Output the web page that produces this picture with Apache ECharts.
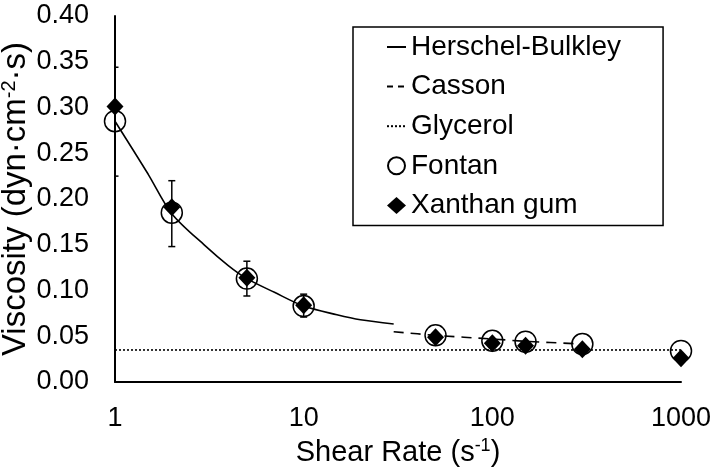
<!DOCTYPE html>
<html>
<head>
<meta charset="utf-8">
<script src="https://cdn.jsdelivr.net/npm/echarts@6/dist/echarts.min.js"></script>
<style>
html,body{margin:0;padding:0;background:#fff;}
#chart{width:720px;height:473px;}
</style>
</head>
<body>
<div id="chart"></div>
<script>
// Measured shear rates (s^-1)
const shearRates = [1, 2, 5, 10, 50, 100, 150, 300, 1000];
// Viscosity data (dyn·cm^-2·s)
const fontanVisc = [0.285, 0.185, 0.113, 0.083, 0.051, 0.045, 0.044, 0.0415, 0.034];
const xanthanVisc = [0.301, 0.191, 0.114, 0.084, 0.0488, 0.0423, 0.0397, 0.0357, 0.0259];
// Fontan error bars (first four shear rates)
const errRates = [1, 2, 5, 10];
const fontanErrLow = [0.225, 0.148, 0.094, 0.071];
const fontanErrHigh = [0.344, 0.220, 0.132, 0.096];
// Herschel-Bulkley fit curve
const hbRates = [1, 1.5, 2, 3, 4, 5, 7, 10, 15, 20, 30];
const hbVisc = [0.285, 0.227, 0.184, 0.149, 0.127, 0.113, 0.098, 0.083, 0.0735, 0.068, 0.0634];
// Casson fit curve
const cassonRates = [30, 50, 100, 150, 300];
const cassonVisc = [0.055, 0.051, 0.047, 0.0445, 0.0415];
// Glycerol reference
const glyRates = [1, 1000];
const glyVisc = [0.035, 0.035];
// Axis ticks
const xTicks = [1, 10, 100, 1000];
const yMin = 0, yMax = 0.40, yStep = 0.05;

const FONT = '"Liberation Sans", Arial, sans-serif';
const zip = (a, b) => a.map((v, i) => [v, b[i]]);
const NOFILL = 'rgba(0,0,0,0)';

const chart = echarts.init(document.getElementById('chart'));
chart.setOption({
  animation: false,
  backgroundColor: '#fff',
  textStyle: {fontFamily: FONT, color: '#000'},
  grid: {left: 115, right: 39, top: 16, bottom: 91, containLabel: false, outerBoundsMode: 'none'},
  xAxis: {
    type: 'log',
    logBase: 10,
    min: xTicks[0],
    max: xTicks[xTicks.length - 1],
    axisLine: {lineStyle: {color: '#000', width: 2}},
    axisTick: {show: false},
    splitLine: {show: false},
    axisLabel: {fontSize: 27, color: '#000', fontFamily: FONT, margin: 23,
      formatter: v => String(Math.round(v))},
    name: 'Shear Rate (s{sup|-1})',
    nameLocation: 'middle',
    nameGap: 55,
    nameMoveOverlap: false,
    nameTextStyle: {fontSize: 29, color: '#000', fontFamily: FONT, lineHeight: 32,
      rich: {sup: {fontSize: 18, lineHeight: 32, verticalAlign: 'top', fontFamily: FONT, color: '#000'}}}
  },
  yAxis: {
    type: 'value',
    min: yMin, max: yMax, interval: yStep,
    axisLine: {show: true, lineStyle: {color: '#000', width: 2}},
    axisTick: {show: false},
    splitLine: {show: false},
    axisLabel: {fontSize: 27, color: '#000', fontFamily: FONT, margin: 26,
      formatter: v => v.toFixed(2)},
    name: 'Viscosity (dyn·cm{sup|-2}·s)',
    nameLocation: 'middle',
    nameGap: 82,
    nameMoveOverlap: false,
    nameTextStyle: {fontSize: 33, color: '#000', fontFamily: FONT, lineHeight: 34,
      rich: {sup: {fontSize: 20, lineHeight: 34, verticalAlign: 'top', fontFamily: FONT, color: '#000'}}}
  },
  legend: {
    orient: 'vertical',
    left: 353, top: 27,
    padding: [5, 42, 5, 33],
    itemGap: 9.6,
    itemWidth: 19, itemHeight: 17,
    itemTextGap: 8,
    borderColor: '#000', borderWidth: 1.5,
    backgroundColor: '#fff',
    textStyle: {fontSize: 28, color: '#000', fontFamily: FONT, lineHeight: 30},
    data: [
      {name: 'Herschel-Bulkley', itemStyle: {opacity: 0}},
      {name: 'Casson', itemStyle: {opacity: 0}, lineStyle: {type: [6, 5]}},
      {name: 'Glycerol', itemStyle: {opacity: 0}, lineStyle: {type: [2, 2]}},
      {name: 'Fontan', icon: 'circle'},
      {name: 'Xanthan gum', icon: 'diamond'}
    ],
    selectedMode: false
  },
  series: [
    {
      name: 'Herschel-Bulkley', type: 'line', data: zip(hbRates, hbVisc),
      symbol: 'none', smooth: 0.3,
      lineStyle: {color: '#000', width: 1.6}, itemStyle: {color: NOFILL}, z: 2
    },
    {
      name: 'Casson', type: 'line', data: zip(cassonRates, cassonVisc),
      symbol: 'none', smooth: 0.3,
      lineStyle: {color: '#000', width: 1.6, type: [10, 7]}, itemStyle: {color: NOFILL}, z: 2
    },
    {
      name: 'Glycerol', type: 'line', data: zip(glyRates, glyVisc),
      symbol: 'none',
      lineStyle: {color: '#000', width: 1.6, type: [2, 2]}, itemStyle: {color: NOFILL}, z: 2
    },
    {
      name: 'Fontan err', type: 'custom',
      data: errRates.map((x, i) => [x, fontanErrLow[i], fontanErrHigh[i]]),
      encode: {x: 0, y: [1, 2]},
      clip: true, z: 3,
      renderItem: function (params, api) {
        const x = api.value(0), lo = api.value(1), hi = api.value(2);
        const pHi = api.coord([x, hi]), pLo = api.coord([x, lo]);
        const w = 3.5;
        const st = {stroke: '#000', lineWidth: 1.5};
        return {type: 'group', children: [
          {type: 'line', shape: {x1: pHi[0], y1: pHi[1], x2: pLo[0], y2: pLo[1]}, style: st},
          {type: 'line', shape: {x1: pHi[0] - w, y1: pHi[1], x2: pHi[0] + w, y2: pHi[1]}, style: st},
          {type: 'line', shape: {x1: pLo[0] - w, y1: pLo[1], x2: pLo[0] + w, y2: pLo[1]}, style: st}
        ]};
      }
    },
    {
      name: 'Fontan', type: 'scatter', data: zip(shearRates, fontanVisc),
      symbol: 'circle', symbolSize: 21,
      itemStyle: {color: NOFILL, borderColor: '#000', borderWidth: 1.5, opacity: 1}, z: 4
    },
    {
      name: 'Xanthan gum', type: 'scatter', data: zip(shearRates, xanthanVisc),
      symbol: 'diamond', symbolSize: [17, 18],
      itemStyle: {color: '#000', opacity: 1}, z: 5
    }
  ]
});
</script>
</body>
</html>
